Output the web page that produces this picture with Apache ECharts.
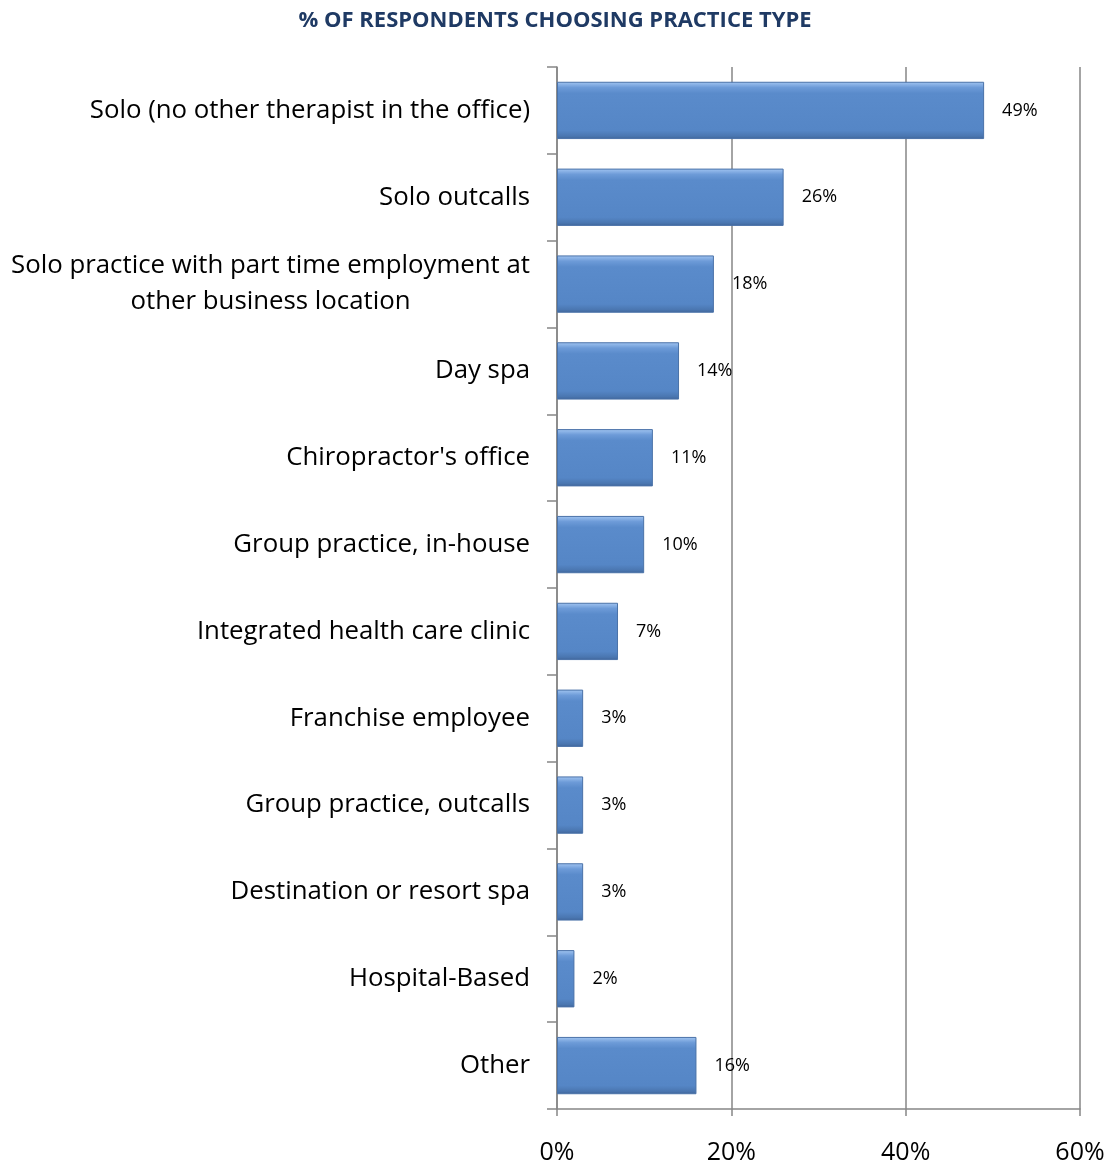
<!DOCTYPE html>
<html>
<head>
<meta charset="utf-8">
<script src="https://cdn.jsdelivr.net/npm/echarts@6/dist/echarts.min.js"></script>
<style>
  html, body { margin: 0; padding: 0; background: #fff; }
  #chart { width: 1110px; height: 1165px; }
</style>
</head>
<body>
<div id="chart"></div>
<script>
const categories = [
    'Solo (no other therapist in the office)',
    'Solo outcalls',
    'Solo practice with part time employment at\nother business location',
    'Day spa',
    "Chiropractor's office",
    'Group practice, in-house',
    'Integrated health care clinic',
    'Franchise employee',
    'Group practice, outcalls',
    'Destination or resort spa',
    'Hospital-Based',
    'Other'
];
const percentValues = [49, 26, 18, 14, 11, 10, 7, 3, 3, 3, 2, 16];
const xTicks = [0, 20, 40, 60];

const chart = echarts.init(document.getElementById('chart'));

const axisGray = '#868686';
const fontFamily = '"Open Sans", "Noto Sans", sans-serif';

const option = {
    backgroundColor: '#ffffff',
    animation: false,
    title: {
        text: '% OF RESPONDENTS CHOOSING PRACTICE TYPE',
        left: 'center',
        top: 5,
        textStyle: {
            color: '#1f3a64',
            fontSize: 22,
            fontWeight: 'bold',
            fontFamily: fontFamily
        }
    },
    grid: {
        left: 557,
        right: 30,
        top: 67,
        bottom: 55,
        containLabel: false
    },
    xAxis: {
        type: 'value',
        min: xTicks[0],
        max: xTicks[xTicks.length - 1],
        interval: 20,
        axisLine: { show: true, lineStyle: { color: axisGray, width: 1.5 } },
        axisTick: { show: true, length: 7, lineStyle: { color: axisGray, width: 1.5 } },
        splitLine: { show: true, lineStyle: { color: axisGray, width: 1.5 } },
        axisLabel: {
            formatter: '{value}%',
            margin: 31,
            color: '#000',
            fontSize: 25,
            fontFamily: fontFamily
        }
    },
    yAxis: {
        type: 'category',
        inverse: true,
        data: categories,
        axisLine: { show: true, lineStyle: { color: axisGray, width: 1.5 } },
        axisTick: { show: true, length: 10, lineStyle: { color: axisGray, width: 1.5 } },
        axisLabel: {
            margin: 27,
            color: '#000',
            fontSize: 25.8,
            fontFamily: fontFamily,
            lineHeight: 36,
            formatter: function (v) {
                return v.split('\n').map(function (s) { return '{c|' + s + '}'; }).join('\n');
            },
            rich: {
                c: {
                    align: 'center',
                    color: '#000',
                    fontSize: 25.8,
                    fontFamily: fontFamily,
                    lineHeight: 36
                }
            }
        }
    },
    series: [{
        type: 'bar',
        data: percentValues,
        barCategoryGap: '34%',
        itemStyle: {
            color: new echarts.graphic.LinearGradient(0, 0, 0, 1, [
                { offset: 0, color: '#a3c6f2' },
                { offset: 0.1, color: '#6d9bd8' },
                { offset: 0.2, color: '#5a8bcb' },
                { offset: 0.85, color: '#5586c6' },
                { offset: 0.95, color: '#4a76b0' },
                { offset: 1, color: '#3f6498' }
            ]),
            borderColor: '#4a72a8',
            borderWidth: 1
        },
        label: {
            show: true,
            position: 'right',
            distance: 18,
            formatter: '{c}%',
            color: '#000',
            fontSize: 18,
            fontFamily: fontFamily
        }
    }]
};

chart.setOption(option);
</script>
</body>
</html>
